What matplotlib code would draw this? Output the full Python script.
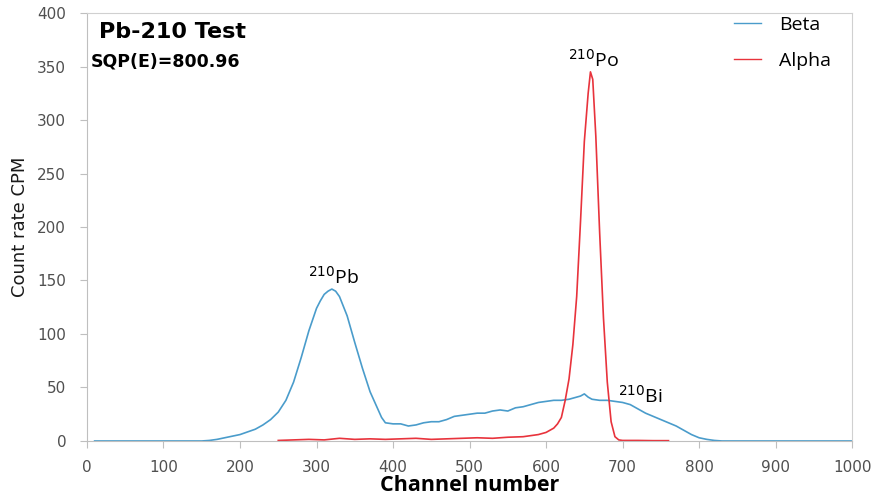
import matplotlib
matplotlib.use("Agg")
import matplotlib.pyplot as plt

# Beta spectrum (channel, CPM)
beta_ch = [10, 50, 100, 150, 160, 170, 180, 190, 200, 210, 220, 230, 240, 250,
           260, 270, 280, 290, 300, 305, 310, 315, 320, 325, 330, 340, 350, 360,
           370, 380, 385, 390, 400, 410, 420, 430, 440, 450, 460, 470, 480, 490,
           500, 510, 520, 530, 540, 550, 560, 570, 580, 590, 600, 610, 620, 630,
           640, 645, 650, 655, 660, 670, 680, 690, 700, 710, 720, 730, 740, 750,
           760, 770, 780, 790, 800, 810, 820, 830, 900, 1000]
beta_cpm = [0, 0, 0, 0, 0.5, 1.5, 3, 4.5, 6, 8.5, 11, 15, 20, 27,
            38, 55, 78, 103, 124, 131, 137, 140, 142, 140, 135, 117, 92, 68,
            46, 30, 22, 17, 16, 16, 14, 15, 17, 18, 18, 20, 23, 24,
            25, 26, 26, 28, 29, 28, 31, 32, 34, 36, 37, 38, 38, 39,
            41, 42, 44, 41, 39, 38, 38, 37, 36, 34, 30, 26, 23, 20,
            17, 14, 10, 6, 3, 1.5, 0.5, 0, 0, 0]

# Alpha spectrum
alpha_ch = [250, 270, 290, 310, 330, 350, 370, 390, 410, 430, 450, 470, 490,
            510, 530, 550, 570, 590, 600, 610, 615, 620, 625, 630, 635, 640,
            645, 650, 655, 658, 661, 665, 670, 675, 680, 685, 690, 695, 700,
            720, 740, 760]
alpha_cpm = [0.5, 1, 1.5, 1, 2.5, 1.5, 2, 1.5, 2, 2.5, 1.5, 2, 2.5,
             3, 2.5, 3.5, 4, 6, 8, 12, 16, 22, 38, 58, 90, 135,
             205, 280, 325, 345, 338, 285, 195, 115, 55, 18, 4, 1, 0.5,
             0.5, 0.3, 0.3]

BLUE = "#4a9ccb"
RED = "#e8333c"
GRID = "#bfbfbf"
TXT = "#505050"

fig = plt.figure(figsize=(8.74, 5.01), dpi=100)
ax = fig.add_axes([0.0995, 0.1198, 0.8755, 0.8542])

ax.plot(beta_ch, beta_cpm, color=BLUE, lw=1.2, label="Beta")
ax.plot(alpha_ch, alpha_cpm, color=RED, lw=1.2, label="Alpha")

ax.set_xlim(0, 1000)
ax.set_ylim(0, 400)
ax.set_xticks(range(0, 1001, 100))
ax.set_yticks(range(0, 401, 50))
ax.tick_params(colors=GRID, labelcolor=TXT, labelsize=11, length=5)
ax.tick_params(axis="y", pad=10)
ax.tick_params(axis="x", pad=9)
for s in ax.spines.values():
    s.set_color("#d0d0d0")
ax.spines["left"].set_color(GRID)
ax.spines["bottom"].set_color(GRID)

ax.set_xlabel("Channel number", fontsize=15.5, fontweight="bold",
              family="Open Sans", labelpad=0)
ax.set_ylabel("Count rate CPM", fontsize=13, family="Liberation Sans Narrow",
              labelpad=6, color="#1a1a1a")

ax.text(0.016, 0.98, "Pb-210 Test", transform=ax.transAxes, fontsize=16,
        fontweight="bold", va="top")
ax.text(0.005, 0.908, "SQP(E)=800.96", transform=ax.transAxes, fontsize=12.5,
        fontweight="bold", va="top")

ax.text(323, 147, r"$^{210}$Pb", fontsize=14, family="Open Sans", ha="center")
ax.text(662, 350, r"$^{210}$Po", fontsize=14, family="Open Sans", ha="center")
ax.text(694, 36, r"$^{210}$Bi", fontsize=14, family="Open Sans")

leg = ax.legend(loc="upper right", frameon=False, handlelength=1.4,
                labelspacing=0.95, handletextpad=0.9,
                bbox_to_anchor=(0.995, 1.035),
                prop={"family": "Open Sans", "size": 14})
for h in leg.get_lines():
    h.set_linewidth(1.0)

fig.savefig("out.png", dpi=100)
